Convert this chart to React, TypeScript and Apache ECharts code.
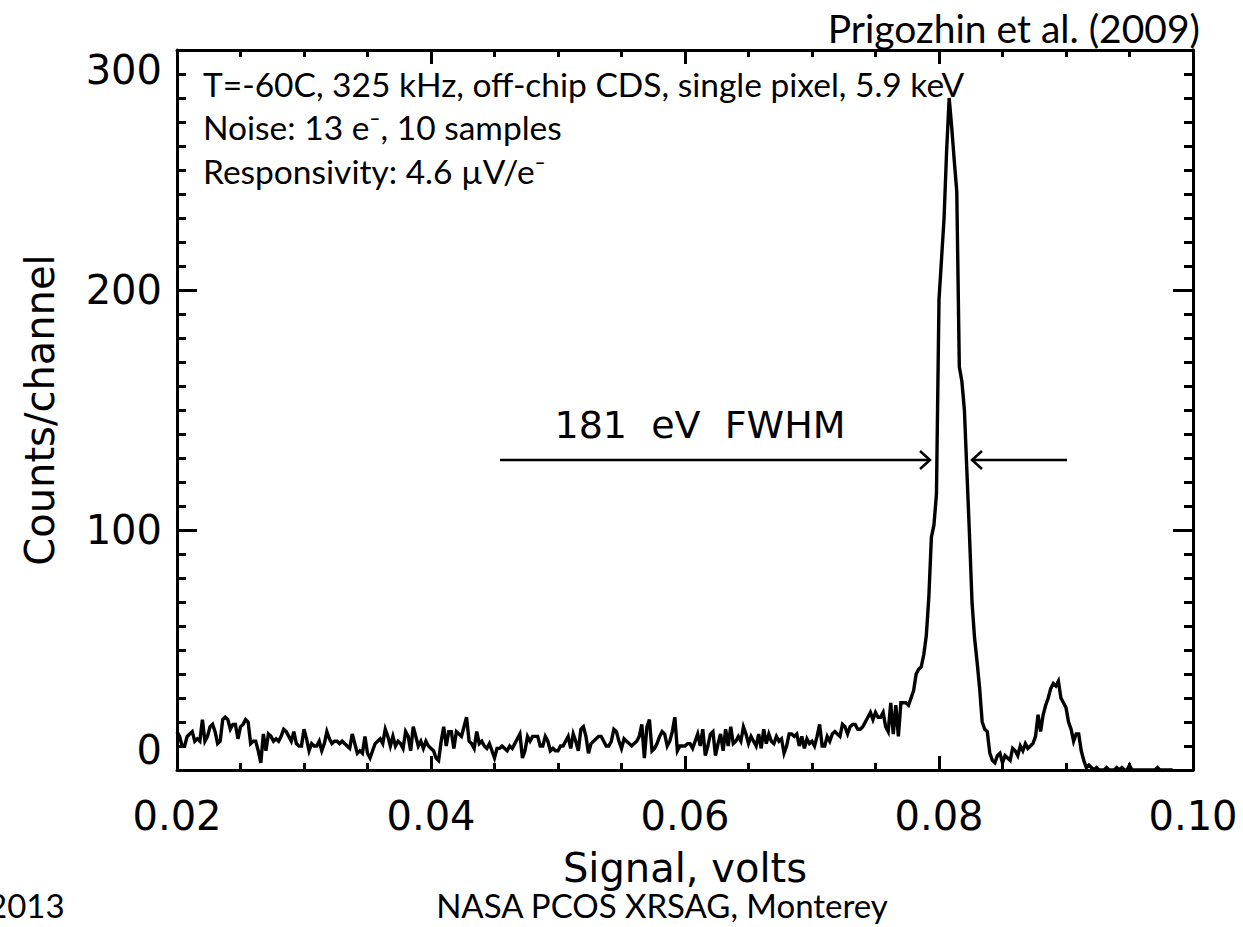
import React, { useEffect, useRef } from "react";
import * as echarts from "echarts";

// Channel layout of the spectrum (volts)
const X_START = 0.02;
const CHANNEL_WIDTH = 0.0002;

// Counts per channel
// 0.0200 – 0.0398 V
const COUNTS_SEG1 = [
  16, 14, 10, 10, 14, 15, 16, 12, 13, 12, 21, 12, 14, 18, 19, 16, 11, 12, 21, 22, 21, 17, 19, 19, 13,
  18, 19, 21, 20, 11, 12, 12, 8, 3, 15, 8, 15, 14, 12, 13, 12, 14, 17, 16, 14, 12, 16, 11, 10, 10,
  17, 13, 8, 11, 10, 10, 12, 8, 11, 16, 13, 11, 12, 12, 11, 12, 11, 10, 9, 15, 11, 7, 8, 7, 14,
  7, 5, 8, 11, 12, 13, 11, 17, 14, 10, 14, 10, 12, 11, 9, 16, 14, 8, 18, 14, 10, 12, 9, 12, 10,
];
// 0.0400 – 0.0598 V
const COUNTS_SEG2 = [
  9, 8, 5, 4, 12, 18, 10, 16, 16, 9, 16, 15, 14, 18, 22, 12, 11, 9, 16, 11, 12, 10, 9, 11, 8,
  5, 9, 9, 10, 9, 8, 10, 9, 11, 13, 15, 5, 8, 14, 12, 14, 14, 14, 10, 10, 14, 12, 8, 9, 8,
  8, 10, 10, 12, 14, 9, 15, 12, 8, 17, 18, 14, 7, 11, 12, 13, 14, 14, 12, 10, 10, 12, 17, 16, 12,
  9, 13, 12, 11, 10, 11, 12, 14, 19, 5, 18, 21, 8, 9, 11, 14, 16, 15, 10, 12, 16, 22, 8, 10, 10,
];
// 0.0600 – 0.0798 V
const COUNTS_SEG3 = [
  10, 11, 11, 9, 12, 15, 10, 17, 6, 10, 15, 16, 6, 11, 15, 8, 17, 10, 18, 11, 12, 14, 12, 18, 15,
  11, 14, 12, 10, 15, 9, 17, 11, 15, 12, 11, 14, 12, 13, 7, 10, 15, 15, 14, 15, 10, 14, 9, 13, 11,
  12, 10, 14, 19, 10, 10, 14, 12, 15, 16, 15, 14, 19, 18, 15, 18, 19, 19, 17, 17, 18, 20, 22, 24, 21,
  24, 22, 22, 24, 18, 16, 28, 15, 27, 14, 28, 28, 28, 27, 30, 33, 40, 42, 43, 48, 56, 72, 97, 102, 115,
];
// 0.0800 – 0.0984 V
const COUNTS_SEG4 = [
  196, 213, 230, 258, 280, 268, 254, 241, 168, 162, 150, 124, 98, 70, 55, 45, 34, 20, 17, 16, 7, 4, 3, 6, 7,
  3, 6, 5, 4, 9, 8, 6, 10, 8, 11, 9, 10, 11, 14, 23, 16, 23, 27, 30, 34, 36, 35, 37, 30, 28,
  26, 20, 17, 12, 15, 15, 8, 4, 1, 2, 1, 0, 1, 0, 0, 0, 1, 0, 0, 0, 1, 0, 1, 0, 0,
  2, 0, 0, 0, 0, 0, 0, 0, 0, 0, 0, 1, 0, 0, 0, 0, 0, 0,
];

const X_MIN = 0.02;
const X_MAX = 0.1;
const X_INTERVAL = 0.02;
const Y_MIN = 0;
const Y_MAX = 300;
const Y_INTERVAL = 100;

const X_NAME = "Signal, volts";
const Y_NAME = "Counts/channel";
const CITATION = "Prigozhin et al. (2009)";
const NOTE_LINES = [
  "T=-60C, 325 kHz, off-chip CDS, single pixel, 5.9 keV",
  "Noise: 13 e\u207B, 10 samples",
  "Responsivity: 4.6 \u00B5V/e\u207B",
];
const FWHM_LABEL = "181  eV  FWHM";
const FOOTER_LEFT = "2013";
const FOOTER_CENTER = "NASA PCOS XRSAG, Monterey";

const IDL_FONT = "DejaVu Sans";
const SLIDE_FONT = "Lato, 'Open Sans', sans-serif";

export default function App() {
  const ref = useRef<HTMLDivElement>(null);

  useEffect(() => {
    if (!ref.current) return;
    const chart = echarts.init(ref.current, undefined, { renderer: "svg" });

    const counts = [...COUNTS_SEG1, ...COUNTS_SEG2, ...COUNTS_SEG3, ...COUNTS_SEG4];
    const data = counts.map((c, i) => [
      +(X_START + i * CHANNEL_WIDTH).toFixed(5),
      c,
    ]);

    const axisLineStyle = { color: "#000", width: 3 };
    const tickStyle = { color: "#000", width: 3 };

    const xAxisBase = {
      type: "value" as const,
      min: X_MIN,
      max: X_MAX,
      interval: X_INTERVAL,
      axisLine: { show: true, onZero: false, lineStyle: axisLineStyle },
      axisTick: { show: true, inside: true, length: 14, lineStyle: tickStyle },
      minorTick: { show: true, splitNumber: 4, length: 7, lineStyle: tickStyle },
      splitLine: { show: false },
      minorSplitLine: { show: false },
    };
    const yAxisBase = {
      type: "value" as const,
      min: Y_MIN,
      max: Y_MAX,
      interval: Y_INTERVAL,
      axisLine: { show: true, onZero: false, lineStyle: axisLineStyle },
      axisTick: { show: true, inside: true, length: 20, lineStyle: tickStyle },
      minorTick: { show: true, splitNumber: 10, length: 9, lineStyle: tickStyle },
      splitLine: { show: false },
      minorSplitLine: { show: false },
    };

    const noteText = (text: string, y: number) => ({
      type: "text",
      x: 203,
      y,
      style: {
        text,
        fill: "#000",
        fontSize: 33.5,
        fontFamily: SLIDE_FONT,
        align: "left",
        verticalAlign: "middle",
      },
    });

    chart.setOption({
      animation: false,
      backgroundColor: "#fff",
      grid: {
        left: 177,
        right: 50,
        top: 50,
        bottom: 157,
        containLabel: false,
        outerBoundsMode: "none",
      },
      xAxis: [
        {
          ...xAxisBase,
          position: "bottom",
          axisLabel: {
            show: true,
            color: "#000",
            fontSize: 40,
            fontFamily: IDL_FONT,
            margin: 26,
            formatter: (v: number) => v.toFixed(2),
          },
          name: X_NAME,
          nameLocation: "middle",
          nameGap: 78,
          nameTextStyle: { color: "#000", fontSize: 40, fontFamily: IDL_FONT },
        },
        {
          ...xAxisBase,
          position: "top",
          axisLabel: { show: false },
        },
      ],
      yAxis: [
        {
          ...yAxisBase,
          position: "left",
          axisLabel: {
            show: true,
            color: "#000",
            fontSize: 40,
            fontFamily: IDL_FONT,
            margin: 15,
            verticalAlignMaxLabel: "top",
            verticalAlignMinLabel: "bottom",
          },
          name: Y_NAME,
          nameLocation: "middle",
          nameGap: 117,
          nameTextStyle: { color: "#000", fontSize: 40, fontFamily: IDL_FONT },
        },
        {
          ...yAxisBase,
          position: "right",
          axisLabel: { show: false },
        },
      ],
      series: [
        {
          type: "line",
          data,
          xAxisIndex: 0,
          yAxisIndex: 0,
          showSymbol: false,
          symbol: "none",
          clip: true,
          lineStyle: { color: "#000", width: 3.4, join: "miter" },
          z: 1,
        },
      ],
      graphic: [
        {
          type: "text",
          x: 1200,
          y: 28,
          style: {
            text: CITATION,
            fill: "#000",
            fontSize: 39,
            fontFamily: SLIDE_FONT,
            align: "right",
            verticalAlign: "middle",
          },
        },
        noteText(NOTE_LINES[0], 84),
        noteText(NOTE_LINES[1], 127),
        noteText(NOTE_LINES[2], 171),
        {
          type: "text",
          x: 700,
          y: 425,
          style: {
            text: FWHM_LABEL,
            fill: "#000",
            fontSize: 38,
            fontFamily: IDL_FONT,
            align: "center",
            verticalAlign: "middle",
          },
        },
        {
          type: "line",
          shape: { x1: 500, y1: 460, x2: 929, y2: 460 },
          style: { stroke: "#000", lineWidth: 2.5 },
        },
        {
          type: "polyline",
          shape: { points: [[920, 451], [930, 460], [920, 469]] },
          style: { stroke: "#000", lineWidth: 2.5, fill: null },
        },
        {
          type: "line",
          shape: { x1: 973, y1: 460, x2: 1067, y2: 460 },
          style: { stroke: "#000", lineWidth: 2.5 },
        },
        {
          type: "polyline",
          shape: { points: [[982, 451], [972, 460], [982, 469]] },
          style: { stroke: "#000", lineWidth: 2.5, fill: null },
        },
        {
          type: "text",
          x: -12,
          y: 905,
          style: {
            text: FOOTER_LEFT,
            fill: "#000",
            fontSize: 33,
            fontFamily: SLIDE_FONT,
            align: "left",
            verticalAlign: "middle",
          },
        },
        {
          type: "text",
          x: 662,
          y: 905,
          style: {
            text: FOOTER_CENTER,
            fill: "#000",
            fontSize: 33,
            fontFamily: SLIDE_FONT,
            align: "center",
            verticalAlign: "middle",
          },
        },
      ],
    });

    return () => chart.dispose();
  }, []);

  return (
    <div
      ref={ref}
      style={{ position: "absolute", left: 0, top: 0, width: 1243, height: 927, background: "#fff" }}
    />
  );
}
